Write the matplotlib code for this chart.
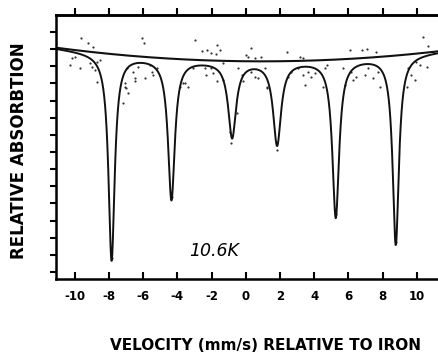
import numpy as np
import matplotlib
matplotlib.use("Agg")
import matplotlib.pyplot as plt

# fitted sextet: line positions (mm/s), minimum of each line, line widths
peak_pos = [-7.85, -4.35, -0.80, 1.83, 5.26, 8.77]
peak_min = [0.70, 4.26, 7.90, 7.47, 3.23, 1.63]
peak_fwhm = [0.44, 0.48, 0.56, 0.56, 0.48, 0.44]

# background (slightly curved), quadratic coefficients c0 + c1*v + c2*v^2
base_coef = [12.29, -0.0103, 0.0055]

# measured counts (velocity, relative absorption)
pts_v = [-9.61, -9.22, -8.96, -6.06, -5.95, -10.19, -10.29, -10.00, -9.71, -9.12,
         -9.02, -8.73, -8.54, -8.83, -8.73, -6.59, -6.49, -5.91, -6.92, -6.33,
         -7.08, -6.98, -5.61, -5.51, -2.98, -1.71, -2.26, -2.59, -1.52, -2.01,
         -1.75, 0.04, -2.40, -2.01, -1.91, -2.30, -1.33, -3.37, -3.57, -3.08,
         -5.22, -5.42, -0.45, -0.25, -1.33, 0.33, 2.38, 0.88, 0.53, 0.13,
         3.16, 3.35, 0.33, 0.72, 0.53, 1.11, 1.21, 2.67, 3.06, 3.35,
         3.64, 3.84, 4.04, 3.45, 4.52, 4.72, 4.62, 2.47, 6.08, 6.77,
         7.06, 7.64, 10.37, 10.66, 10.92, 5.69, 6.18, 6.27, 6.47, 6.96,
         7.15, 7.44, 7.74, 7.84, 5.79, 9.49, 9.69, 9.88, 10.18, 10.57,
         9.40, 9.98, -7.08, -6.88, -7.18, -3.67, -3.86, -6.49, -1.71, -0.94,
         -0.84, 1.80, 1.21, -0.16, -0.54, -7.85, 8.77, -4.30, 5.25]
pts_y = [13.63, 13.34, 13.14, 13.67, 13.34, 12.47, 12.08, 12.56, 11.92, 12.18,
         11.98, 12.27, 12.37, 11.79, 11.10, 11.69, 11.30, 11.30, 11.88, 11.98,
         11.01, 10.72, 12.08, 11.69, 13.54, 13.24, 12.95, 12.89, 12.95, 12.76,
         12.70, 12.66, 11.88, 11.88, 11.59, 11.49, 11.20, 10.81, 11.01, 11.88,
         11.88, 11.49, 11.88, 11.49, 12.18, 13.09, 12.82, 12.56, 12.47, 12.56,
         12.56, 12.47, 11.69, 11.30, 11.39, 11.88, 10.81, 11.69, 11.88, 11.49,
         11.69, 11.39, 11.59, 10.91, 10.81, 12.08, 11.88, 11.39, 12.95, 12.95,
         13.01, 12.85, 13.73, 13.20, 12.85, 11.88, 11.69, 11.20, 11.39, 11.49,
         11.88, 11.30, 11.69, 10.81, 10.91, 11.88, 11.49, 11.20, 12.08, 11.98,
         10.81, 12.27, 10.81, 10.43, 9.84, 11.01, 10.81, 11.16, 11.14, 8.19,
         7.51, 7.12, 10.72, 11.16, 9.26, 0.80, 1.75, 4.40, 3.40]

xticks = [-10, -8, -6, -4, -2, 0, 2, 4, 6, 8, 10]
yticks = list(range(0, 15))


def baseline(v):
    return base_coef[0] + base_coef[1] * v + base_coef[2] * v ** 2


def spectrum(v):
    y = baseline(v)
    for p, m, w in zip(peak_pos, peak_min, peak_fwhm):
        depth = baseline(p) - m
        y = y - depth / (1 + (2 * (v - p) / w) ** 2)
    return y


plt.rcParams["font.family"] = ["DejaVu Sans"]

fig = plt.figure(figsize=(4.38, 3.54), dpi=100)
ax = fig.add_axes([0.1279, 0.2119, 0.8721, 0.7458])

v = np.linspace(-11.1, 11.24, 3000)
ax.plot(v, baseline(v), color="#111111", lw=1.5)
ax.plot(v, spectrum(v), color="#111111", lw=1.4)
ax.scatter(pts_v, pts_y, s=2.5, color="#333333", lw=0)

ax.set_xlim(-11.1, 11.24)
ax.set_ylim(-0.41, 14.99)
ax.set_xticks(xticks)
ax.set_xticklabels([str(t) for t in xticks], fontweight="bold", fontsize=8.5)
ax.set_yticks(yticks)
ax.set_yticklabels([])

ax.spines["right"].set_visible(False)
for s in ["left", "top", "bottom"]:
    ax.spines[s].set_linewidth(1.8)

ax.tick_params(axis="x", direction="in", length=5, width=1.5, pad=8)
ax.tick_params(axis="y", direction="out", length=4.5, width=1.5)

# ticks along the top edge point outward
top = ax.secondary_xaxis("top")
top.set_xticks(xticks)
top.set_xticklabels([])
top.tick_params(direction="out", length=5, width=1.5)
top.spines["top"].set_linewidth(1.8)

ax.text(-3.3, 0.95, "10.6K", fontsize=12.5, fontstyle="italic")

fig.text(0.043, 0.573, "RELATIVE ABSORBTION", rotation=90, fontsize=12,
         fontweight="bold", ha="center", va="center")
fig.text(0.607, 0.025, "VELOCITY (mm/s) RELATIVE TO IRON", fontsize=11,
         fontweight="bold", ha="center", va="center")

fig.savefig("out.png", dpi=100)
